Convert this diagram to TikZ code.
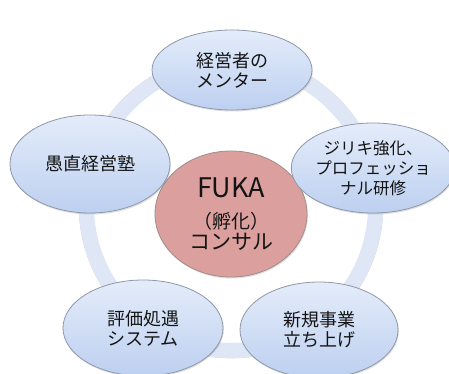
\documentclass[tikz,border=0pt]{standalone}
\usepackage{fontspec}
\setmainfont{Noto Sans CJK JP}
\usetikzlibrary{shapes.geometric,shadows}
\definecolor{ringc}{HTML}{DFE7F6}
\definecolor{ringedge}{HTML}{B4BCC8}
\definecolor{elltop}{HTML}{E4ECFA}
\definecolor{ellbot}{HTML}{BDD0F0}
\definecolor{elledge}{HTML}{8E98A8}
\definecolor{hubfill}{HTML}{DBA09E}
\definecolor{hubedge}{HTML}{A08C8A}
\definecolor{txt}{HTML}{141414}
\tikzset{
  satellite/.style={ellipse, draw=elledge, line width=0.8pt, top color=elltop, bottom color=ellbot,
    inner sep=0pt, align=center, text=txt, font=\fontsize{18}{20}\selectfont,
    drop shadow={opacity=0.25, shadow xshift=0.8pt, shadow yshift=-1.5pt}},
  hub/.style={ellipse, draw=hubedge, line width=0.8pt, fill=hubfill, inner sep=0pt,
    align=center, text=txt,
    drop shadow={opacity=0.25, shadow xshift=0.8pt, shadow yshift=-1.5pt}},
}
\begin{document}
\begin{tikzpicture}[x=1pt,y=1pt]
\useasboundingbox[fill=white] (0,0) rectangle (449,374);
% ring
\node[circle, draw=ringedge, line width=0.6pt, minimum size=304pt, inner sep=0pt, opacity=0.6] (ringout) at (231,168) {};
\node[circle, draw=ringc, line width=15pt, minimum size=289pt, inner sep=0pt] (ring) at (231,168) {};
% hub
\node[hub, minimum width=152pt, minimum height=126pt] (hub) at (231,160)
  {{\fontsize{27}{28}\selectfont FUKA}\\[14pt]{\fontsize{19}{24}\selectfont （孵化）}\\[2pt]{\fontsize{21}{24}\selectfont コンサル}};
% satellites
\node[satellite, minimum width=160pt, minimum height=80pt] (top) at (232,304) {経営者の\\メンター};
\node[satellite, minimum width=160pt, minimum height=98pt] (left) at (90,210) {愚直経営塾};
\node[satellite, minimum width=152pt, minimum height=90pt, font=\fontsize{16.5}{20}\selectfont] (right) at (373,206) {ジリキ強化、\\プロフェッショ\\ナル研修};
\node[satellite, minimum width=160pt, minimum height=96pt] (bl) at (143,46) {評価処遇\\システム};
\node[satellite, minimum width=158pt, minimum height=96pt] (br) at (319,44) {新規事業\\立ち上げ};
\end{tikzpicture}
\end{document}
